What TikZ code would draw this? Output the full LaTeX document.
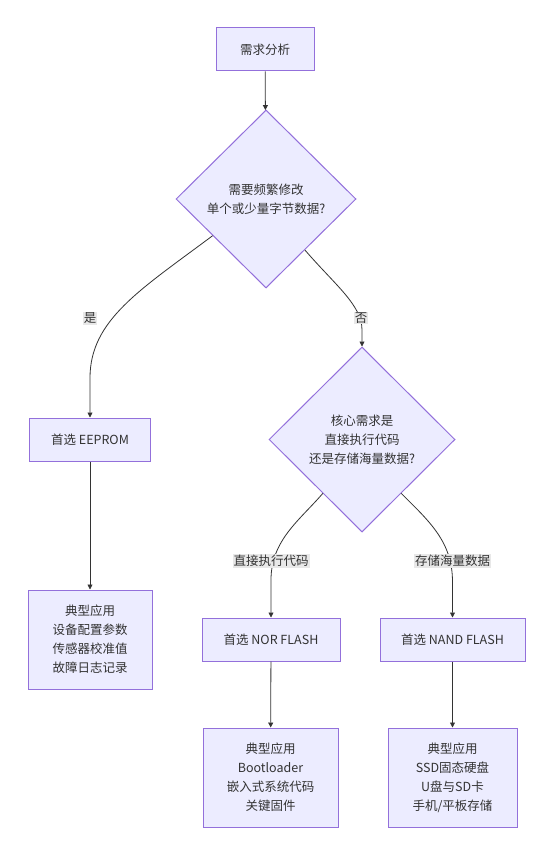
\documentclass[tikz,border=0pt]{standalone}
\usepackage{fontspec}
\setmainfont{Noto Sans CJK SC}
\usetikzlibrary{shapes.geometric,arrows.meta,calc}
\definecolor{boxfill}{HTML}{ECECFF}
\definecolor{boxline}{HTML}{9370DB}
\definecolor{txt}{HTML}{333333}
\definecolor{lblbg}{HTML}{E8E8E8}
\begin{document}
\begin{tikzpicture}[x=1pt,y=-1pt,
  every node/.style={font=\fontsize{12.5}{19}\selectfont, text=txt},
  procbox/.style={draw=boxline, fill=boxfill, line width=1pt, rectangle, align=center, inner sep=0pt},
  decision/.style={draw=boxline, fill=boxfill, line width=1pt, diamond, align=center, inner sep=0pt},
  edgelabel/.style={fill=lblbg, inner sep=1pt, text=txt},
  link/.style={draw=txt, line width=0.8pt, -{Triangle[length=5pt,width=5pt]}}]
\useasboundingbox (0,0) rectangle (553,853);
\fill[white] (0,0) rectangle (553,853);

\node[procbox, minimum width=98pt, minimum height=43pt] (start) at (265,49.5) {需求分析};
\node[decision, minimum width=180pt, minimum height=178pt] (d1) at (266,199) {需要频繁修改\\单个或少量字节数据?};
\node[procbox, minimum width=121pt, minimum height=43pt] (eeprom) at (90,439.5) {首选 EEPROM};
\node[procbox, minimum width=124pt, minimum height=99pt] (eapp) at (90,639.5) {典型应用\\设备配置参数\\传感器校准值\\故障日志记录};
\node[decision, minimum width=186pt, minimum height=185pt] (d2) at (362,439.5) {核心需求是\\直接执行代码\\还是存储海量数据?};
\node[procbox, minimum width=138pt, minimum height=43pt] (nor) at (271,639.5) {首选 NOR FLASH};
\node[procbox, minimum width=145pt, minimum height=43pt] (nand) at (452.5,639.5) {首选 NAND FLASH};
\node[procbox, minimum width=135pt, minimum height=99pt] (napp) at (270.5,777.5) {典型应用\\Bootloader\\嵌入式系统代码\\关键固件};
\node[procbox, minimum width=129pt, minimum height=99pt] (dapp) at (452.5,777.5) {典型应用\\SSD固态硬盘\\U盘与SD卡\\手机/平板存储};

\coordinate (d1a) at ($(d1.west)!0.41!(d1.south)$);
\coordinate (d1b) at ($(d1.east)!0.57!(d1.south)$);
\coordinate (d2a) at ($(d2.west)!0.58!(d2.south)$);
\coordinate (d2b) at ($(d2.east)!0.58!(d2.south)$);

\draw[link] (start) -- (d1);
\draw[link] (d1a) .. controls (140,290) and (eeprom.north |- 0,320) .. (eeprom.north |- 0,378) -- (eeprom.north);
\draw[link] (d1b) .. controls (335,285) and (d2.north |- 0,305) .. (d2.north |- 0,330) -- (d2.north);
\draw[link] (d2a) .. controls (300,520) and (nor.north |- 0,540) .. (nor.north |- 0,580) -- (nor.north);
\draw[link] (d2b) .. controls (430,522) and (nand.north |- 0,542) .. (nand.north |- 0,582) -- (nand.north);
\draw[link] (eeprom) -- (eapp);
\draw[link] (nor) -- (napp);
\draw[link] (nand) -- (dapp);

\node[edgelabel] (lyes) at (90,318) {是};
\node[edgelabel] (lno) at (361,318) {否};
\node[edgelabel] (lexec) at (271,561) {直接执行代码};
\node[edgelabel] (lstore) at (452.5,561) {存储海量数据};
\end{tikzpicture}
\end{document}
